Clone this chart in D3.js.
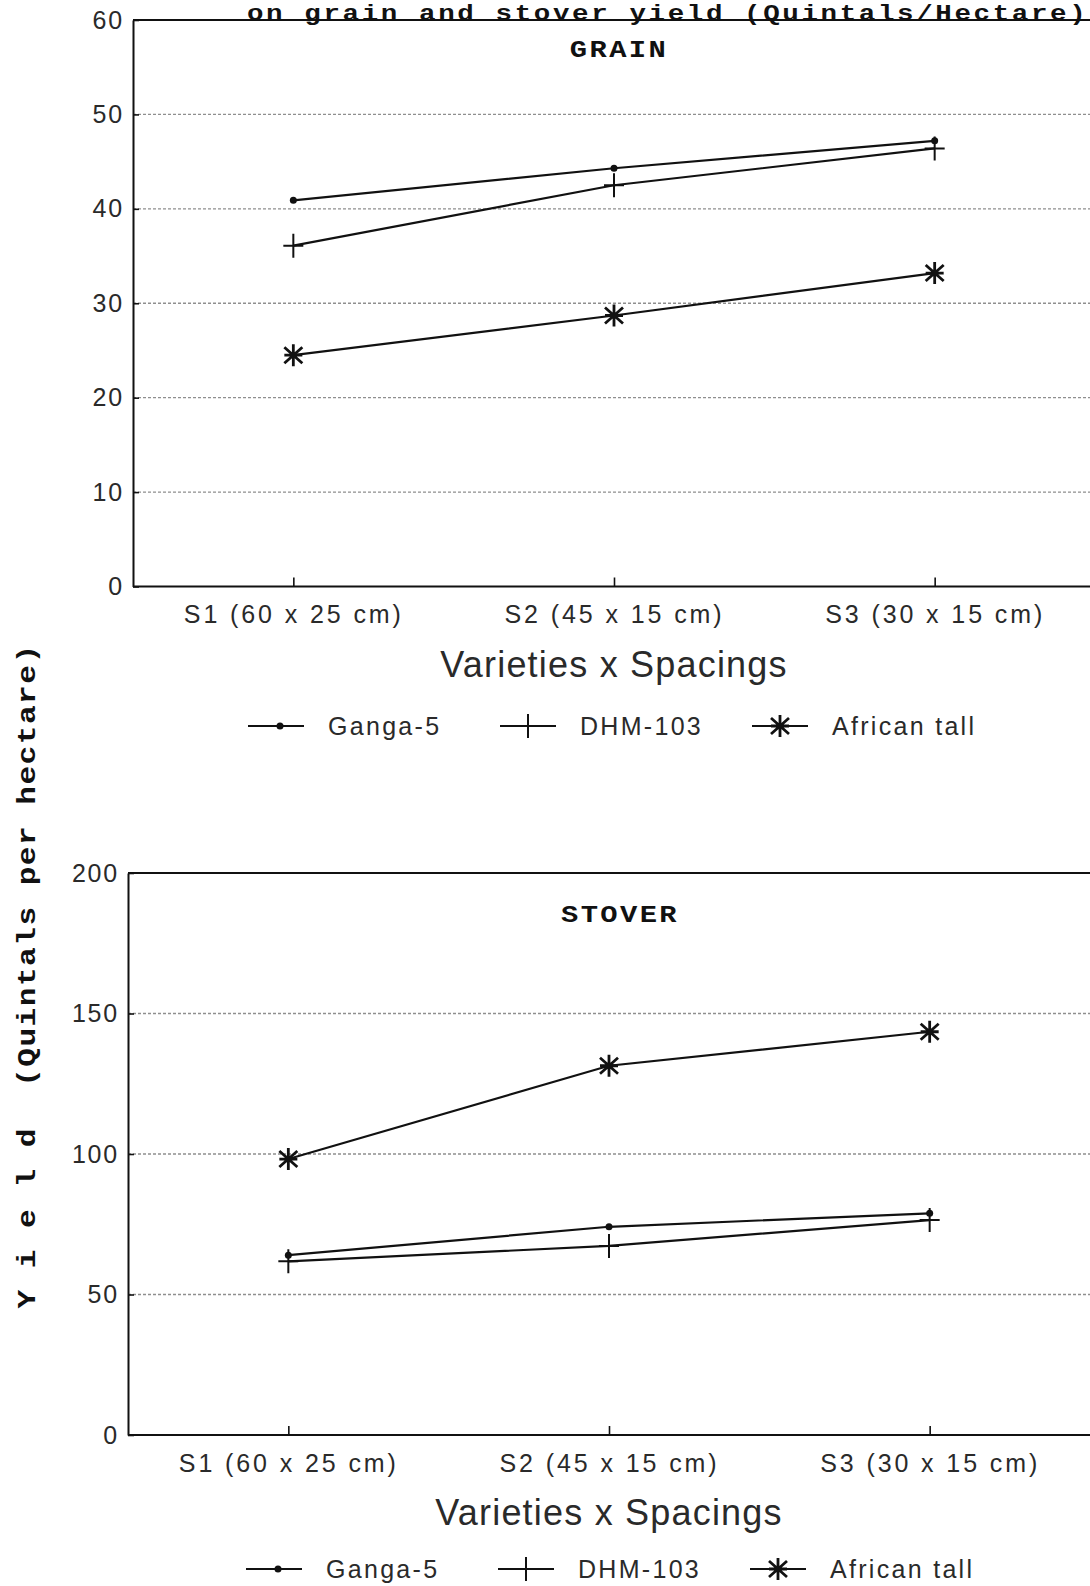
<!DOCTYPE html>
<html>
<head>
<meta charset="utf-8">
<script src="https://d3js.org/d3.v7.min.js"></script>
<style>
    body { margin: 0; padding: 0; background: #fff; }
    svg { display: block; }
    .num { font-family: 'Liberation Sans', Arial, sans-serif; fill: #2a2a2a; }
    .mono { font-family: 'Liberation Mono', 'Courier New', monospace; font-weight: bold; fill: #111; white-space: pre; }
</style>
</head>
<body>
<svg id="chart" width="1090" height="1586"></svg>
<script>
    // data
    const categories = ["S1 (60 x 25 cm)", "S2 (45 x 15 cm)", "S3 (30 x 15 cm)"];
    const seriesNames = ["Ganga-5", "DHM-103", "African tall"];

    const grainGanga = [40.9, 44.3, 47.2];
    const grainDHM = [36.1, 42.5, 46.4];
    const grainAfrican = [24.5, 28.7, 33.2];
    const grainTicks = [0, 10, 20, 30, 40, 50, 60];

    const stoverGanga = [64.0, 74.1, 78.9];
    const stoverDHM = [61.8, 67.3, 76.5];
    const stoverAfrican = [98.2, 131.4, 143.5];
    const stoverTicks = [0, 50, 100, 150, 200];

    const markers = ["dot", "plus", "star"];

    let svg = d3.select("#chart");

    // figure title (sits right on the top frame, as in the scan)
    // typewriter face is wider than Liberation Mono, so stretch it a bit
    svg.append("text")
        .attr("class", "mono")
        .attr("transform", "translate(247,20) scale(1.25,1)")
        .style("font-size", "22px")
        .style("letter-spacing", "2.1px")
        .text("on grain and stover yield (Quintals/Hectare)");

    // shared y axis title
    svg.append("text")
        .attr("class", "mono")
        .attr("transform", "translate(35,976) rotate(-90) scale(1.2,1)")
        .attr("text-anchor", "middle")
        .style("font-size", "26px")
        .style("letter-spacing", "1.2px")
        .text("Y i e l d  (Quintals per hectare)");

    function drawMarker(sel, type) {
        if (type == "dot") {
            sel.append("circle").attr("r", 3.5).style("fill", "#111");
        } else if (type == "plus") {
            sel.append("path").attr("d", "M-10,0H10M0,-12V12")
                .style("stroke", "#111").style("stroke-width", 2).style("fill", "none");
        } else {
            sel.append("path").attr("d", "M0,-11V11M-9,-8L9,8M-9,8L9,-8M-9,0H9")
                .style("stroke", "#111").style("stroke-width", 2.8).style("fill", "none");
        }
    }

    function drawPanel(p) {
        let x = d3.scalePoint().domain(categories).range([p.left, p.right]).padding(0.5);
        let y = d3.scaleLinear().domain([0, p.max]).range([p.bottom, p.top]);
        let g = svg.append("g");

        // dotted grid
        g.selectAll(".grid")
            .data(p.ticks.filter(function(t){ return t > 0 && t < p.max; }))
            .enter().append("line")
            .attr("x1", p.left).attr("x2", 1090)
            .attr("y1", function(d){ return y(d); })
            .attr("y2", function(d){ return y(d); })
            .style("stroke", "#8f8f8f").style("stroke-width", 1.4)
            .style("stroke-dasharray", "3,2");

        // top frame line
        g.append("line")
            .attr("x1", p.left).attr("x2", 1090)
            .attr("y1", y(p.max)).attr("y2", y(p.max))
            .style("stroke", "#111").style("stroke-width", 2);

        let yAxis = g.append("g")
            .attr("transform", "translate(" + p.left + ",0)")
            .call(d3.axisLeft(y).tickValues(p.ticks).tickSize(-6).tickSizeOuter(0).tickPadding(9));
        let xAxis = g.append("g")
            .attr("transform", "translate(0," + p.bottom + ")")
            .call(d3.axisBottom(x).tickSize(-9).tickSizeOuter(0).tickPadding(19));

        [yAxis, xAxis].forEach(function(a) {
            a.select(".domain").style("stroke", "#111").style("stroke-width", 2);
            a.selectAll(".tick line").style("stroke", "#111").style("stroke-width", 1.6);
            a.selectAll("text").attr("class", "num");
        });
        yAxis.selectAll("text").style("font-size", "25px").style("letter-spacing", "1.8px");
        xAxis.selectAll("text").style("font-size", "25px").style("letter-spacing", "2.9px");
        xAxis.select(".domain").attr("d", "M" + p.left + ",0H1090");

        // panel label
        g.append("text")
            .attr("class", "mono")
            .attr("transform", "translate(" + p.labelX + "," + p.labelY + ") scale(1.2,1)")
            .attr("text-anchor", "middle")
            .style("font-size", "24px")
            .style("letter-spacing", "2px")
            .text(p.label);

        // x axis title
        g.append("text")
            .attr("class", "num")
            .attr("x", (p.left + p.right) / 2).attr("y", p.bottom + 90)
            .attr("text-anchor", "middle")
            .style("font-size", "36px")
            .style("letter-spacing", "1.2px")
            .text("Varieties x Spacings");

        let line = d3.line()
            .x(function(d, i){ return x(categories[i]); })
            .y(function(d){ return y(d); });

        p.series.forEach(function(vals, s) {
            g.append("path")
                .datum(vals)
                .attr("d", line)
                .style("fill", "none").style("stroke", "#111").style("stroke-width", 2.2);
            g.selectAll(".m" + s)
                .data(vals)
                .enter().append("g")
                .attr("transform", function(d, i){ return "translate(" + x(categories[i]) + "," + y(d) + ")"; })
                .each(function(){ drawMarker(d3.select(this), markers[s]); });
        });

        // legend
        let lg = g.selectAll(".legend")
            .data(seriesNames)
            .enter().append("g")
            .attr("transform", function(d, i){ return "translate(" + (p.legendX + i * 252) + "," + p.legendY + ")"; });
        lg.append("line")
            .attr("x1", 0).attr("x2", 56).attr("y1", -9).attr("y2", -9)
            .style("stroke", "#111").style("stroke-width", 2);
        lg.each(function(d, i) {
            let m = d3.select(this).append("g").attr("transform", "translate(" + (i == 0 ? 32 : 28) + ",-9)");
            drawMarker(m, markers[i]);
        });
        lg.append("text")
            .attr("class", "num")
            .attr("x", 80).attr("y", 0)
            .style("font-size", "25px")
            .style("letter-spacing", "2.3px")
            .text(function(d){ return d; });
    }

    drawPanel({
        left: 133, right: 1095, top: 20, bottom: 586.5,
        max: 60, ticks: grainTicks,
        series: [grainGanga, grainDHM, grainAfrican],
        label: "GRAIN", labelX: 619, labelY: 57,
        legendX: 248, legendY: 735
    });

    drawPanel({
        left: 128, right: 1090, top: 873, bottom: 1435,
        max: 200, ticks: stoverTicks,
        series: [stoverGanga, stoverDHM, stoverAfrican],
        label: "STOVER", labelX: 620, labelY: 922,
        legendX: 246, legendY: 1578
    });
</script>
</body>
</html>
